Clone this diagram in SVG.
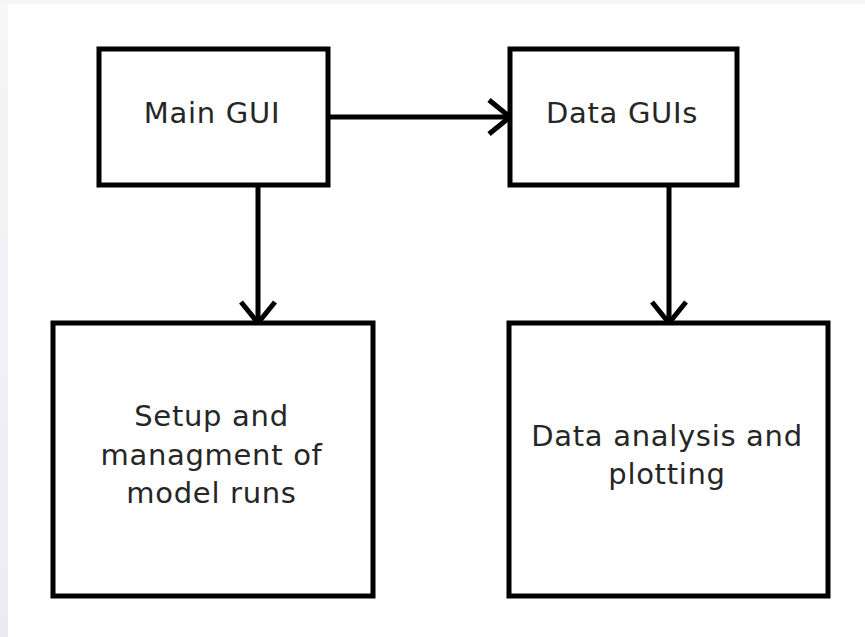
<svg xmlns="http://www.w3.org/2000/svg" width="865" height="637" viewBox="0 0 865 637">
  <defs>
    <style>
      .box { fill: #ffffff; stroke: #000000; stroke-width: 5; }
      .lbl { font-family: "DejaVu Sans", "Liberation Sans", sans-serif; font-size: 29px; letter-spacing: 0.7px; fill: #262626; text-anchor: middle; }
      .conn { fill: none; stroke: #000000; stroke-width: 5; }
    </style>
    <linearGradient id="edge" x1="0" y1="0" x2="0" y2="1">
      <stop offset="0" stop-color="#f5f6f7"/>
      <stop offset="1" stop-color="#eaecf0"/>
    </linearGradient>
    <marker id="arrow" markerUnits="userSpaceOnUse" markerWidth="40" markerHeight="44" viewBox="-26 -22 30 44" refX="0" refY="0" orient="auto">
      <path d="M -21 -17 L 0 0 L -21 17" fill="none" stroke="#000000" stroke-width="5"/>
    </marker>
  </defs>

  <rect x="0" y="0" width="865" height="637" fill="url(#edge)"/>
  <rect x="0" y="0" width="865" height="4" fill="#f4f5f6"/>
  <rect x="8" y="4" width="857" height="633" fill="#ffffff"/>

  <g id="connectors">
    <path class="conn" d="M 328 117 L 510 117" marker-end="url(#arrow)"/>
    <path class="conn" d="M 258 185 L 258 323" marker-end="url(#arrow)"/>
    <path class="conn" d="M 669 185 L 669 323" marker-end="url(#arrow)"/>
  </g>

  <g id="main-gui">
    <rect class="box" x="99" y="49" width="229" height="136"/>
    <text class="lbl" x="212" y="122.5">Main GUI</text>
  </g>

  <g id="data-guis">
    <rect class="box" x="510" y="49" width="227" height="136"/>
    <text class="lbl" x="622" y="122.5">Data GUIs</text>
  </g>

  <g id="setup">
    <rect class="box" x="53" y="323" width="320" height="273"/>
    <text class="lbl" x="211.5" y="426">Setup and</text>
    <text class="lbl" x="211.5" y="464.5">managment of</text>
    <text class="lbl" x="211.5" y="503">model runs</text>
  </g>

  <g id="analysis">
    <rect class="box" x="509" y="323" width="319" height="273"/>
    <text class="lbl" x="667" y="446">Data analysis and</text>
    <text class="lbl" x="667" y="484">plotting</text>
  </g>
</svg>
